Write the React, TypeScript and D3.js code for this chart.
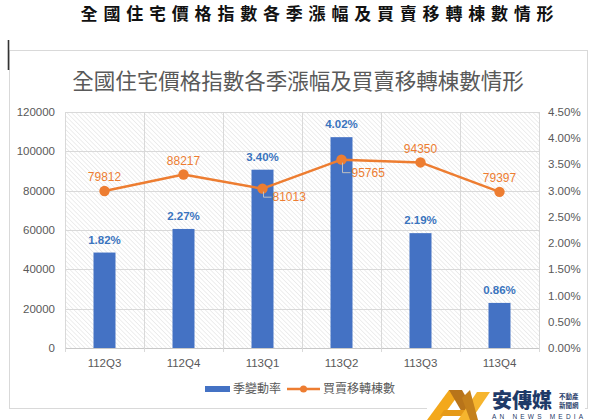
import React from 'react';
import * as d3 from 'd3';

const categories = ['112Q3', '112Q4', '113Q1', '113Q2', '113Q3', '113Q4'];
const changeRates = [1.82, 2.27, 3.40, 4.02, 2.19, 0.86];
const transfers = [79812, 88217, 81013, 95765, 94350, 79397];
const leftTicks = [0, 20000, 40000, 60000, 80000, 100000, 120000];
const rightTicks = [0, 0.5, 1, 1.5, 2, 2.5, 3, 3.5, 4, 4.5];
const pageTitle = '全國住宅價格指數各季漲幅及買賣移轉棟數情形';
const chartTitle = '全國住宅價格指數各季漲幅及買賣移轉棟數情形';
const legendLabels = ['季變動率', '買賣移轉棟數'];

const W = 600, H = 420;
const plot = { left: 65, right: 539, top: 112, bottom: 348 };
const BLUE = '#4472C4';
const BLUE_LABEL = '#3A74BE';
const ORANGE = '#ED7D31';
const GRAY_TEXT = '#595959';
const GRID = '#D9D9D9';
const NUM_FONT = '"Liberation Sans", Arial, sans-serif';
const CJK_FONT = '"Noto Sans CJK TC", "Noto Sans", sans-serif';

export default function App() {
  const x = d3.scaleBand<string>().domain(categories).range([plot.left, plot.right]).paddingInner(0).paddingOuter(0);
  const yL = d3.scaleLinear().domain([0, 120000]).range([plot.bottom, plot.top]);
  const yR = d3.scaleLinear().domain([0, 4.5]).range([plot.bottom, plot.top]);
  const barW = 22;
  const cx = (c: string) => (x(c) as number) + x.bandwidth() / 2;
  const line = d3.line<number>().x((_, i) => cx(categories[i])).y((v) => yL(v));
  const callouts = new Set([2, 3]);
  const boundaries = d3.range(categories.length + 1).map((i) => plot.left + i * x.bandwidth());

  return (
    <svg width={W} height={H} style={{ position: 'absolute', left: 0, top: 0, background: '#fff' }}>
      <defs>
        <pattern id="hatch" width="3.2" height="3.2" patternUnits="userSpaceOnUse" patternTransform="rotate(45)">
          <line x1="0" y1="0" x2="3.2" y2="0" stroke="#DADADA" strokeWidth="0.9" />
        </pattern>
      </defs>
      {/* page title */}
      <text x={320} y={19.5} textAnchor="middle" fontFamily={CJK_FONT} fontWeight={700} fontSize={17}
        letterSpacing={5.8} fill="#111">{pageTitle}</text>
      {/* frame */}
      <rect x={9.5} y={50.5} width={578} height={358} fill="none" stroke="#D9D9D9" strokeWidth={1} />
      <line x1={8.5} y1={40} x2={8.5} y2={70} stroke="#333" strokeWidth={1.6} />
      {/* chart title */}
      <text x={298} y={89} textAnchor="middle" fontFamily={CJK_FONT} fontSize={21.5} fill={GRAY_TEXT}>{chartTitle}</text>
      {/* plot background */}
      <rect x={plot.left} y={plot.top} width={plot.right - plot.left} height={plot.bottom - plot.top} fill="url(#hatch)" />
      {/* grid */}
      {leftTicks.map((t) => (
        <line key={'h' + t} x1={plot.left} x2={plot.right} y1={Math.round(yL(t)) + 0.5} y2={Math.round(yL(t)) + 0.5}
          stroke={t === 0 ? '#C8C8C8' : GRID} strokeWidth={1} />
      ))}
      {boundaries.map((b, i) => (
        <line key={'v' + i} x1={Math.round(b) + 0.5} x2={Math.round(b) + 0.5} y1={plot.top} y2={plot.bottom + 4}
          stroke={GRID} strokeWidth={1} />
      ))}
      {/* left axis */}
      {leftTicks.map((t) => (
        <text key={'l' + t} x={55} y={yL(t)} dy="0.35em" textAnchor="end" fontFamily={NUM_FONT} fontSize={11.5}
          fill={GRAY_TEXT}>{t}</text>
      ))}
      {/* right axis */}
      {rightTicks.map((t) => (
        <text key={'r' + t} x={548} y={yR(t)} dy="0.35em" textAnchor="start" fontFamily={NUM_FONT} fontSize={11.5}
          fill={GRAY_TEXT}>{t.toFixed(2) + '%'}</text>
      ))}
      {/* x labels */}
      {categories.map((c) => (
        <text key={'x' + c} x={cx(c)} y={363} dy="0.35em" textAnchor="middle" fontFamily={NUM_FONT} fontSize={11.5}
          fill={GRAY_TEXT}>{c}</text>
      ))}
      {/* bars */}
      {changeRates.map((v, i) => (
        <rect key={'b' + i} x={cx(categories[i]) - barW / 2} y={yR(v)} width={barW} height={plot.bottom - yR(v)} fill={BLUE} />
      ))}
      {changeRates.map((v, i) => (
        <text key={'bl' + i} x={cx(categories[i])} y={yR(v) - 13} dy="0.35em" textAnchor="middle" fontFamily={NUM_FONT}
          fontWeight={700} fontSize={11.5} fill={BLUE_LABEL}>{v.toFixed(2) + '%'}</text>
      ))}
      {/* line */}
      <path d={line(transfers) || ''} fill="none" stroke={ORANGE} strokeWidth={2.5} strokeLinejoin="round" />
      {transfers.map((v, i) => (
        <circle key={'p' + i} cx={cx(categories[i])} cy={yL(v)} r={5.2} fill={ORANGE} />
      ))}
      {transfers.map((v, i) => {
        const px = cx(categories[i]);
        const py = yL(v);
        if (callouts.has(i)) {
          const ly = py + (i === 2 ? 8.5 : 13);
          return (
            <g key={'pl' + i}>
              <polyline points={`${px + 1},${py + 3} ${px + 1},${ly} ${px + 9},${ly}`} fill="none" stroke="#BFBFBF" strokeWidth={1} />
              <text x={px + 10} y={ly} dy="0.35em" textAnchor="start" fontFamily={NUM_FONT} fontSize={12}
                fill={ORANGE}>{v}</text>
            </g>
          );
        }
        return (
          <text key={'pl' + i} x={px} y={py - 14} dy="0.35em" textAnchor="middle" fontFamily={NUM_FONT} fontSize={12}
            fill={ORANGE}>{v}</text>
        );
      })}
      {/* legend */}
      <rect x={205} y={386} width={25} height={6} fill={BLUE} />
      <text x={233} y={389} dy="0.35em" fontFamily={CJK_FONT} fontSize={12} fill={GRAY_TEXT}>{legendLabels[0]}</text>
      <line x1={287} x2={320} y1={389} y2={389} stroke={ORANGE} strokeWidth={2.5} />
      <circle cx={303.5} cy={389} r={3.5} fill={ORANGE} />
      <text x={323} y={389} dy="0.35em" fontFamily={CJK_FONT} fontSize={12} fill={GRAY_TEXT}>{legendLabels[1]}</text>
      {/* watermark logo */}
      <g>
        <rect x={427} y={386} width={158} height={34} fill="#fff" />
        <polygon points="427,420 440,420 462,390 449,390" fill="#F3A81C" />
        <polygon points="449,390 462,390 470,404 463,414" fill="#B8741A" />
        <polygon points="444,410 468,410 464,416 440,416" fill="#E69A18" />
        <polygon points="458,420 471,420 490,392 477,392" fill="#F6B52E" />
        <polygon points="462,398 470,390 478,420 470,420" fill="#C4801C" />
        <text x={492} y={408} fontFamily={CJK_FONT} fontWeight={900} fontSize={20} fill="#1F3A68">安傳媒</text>
        <text x={559} y={398.5} fontFamily={CJK_FONT} fontWeight={700} fontSize={6.5} fill="#1F3A68">不動產</text>
        <text x={559} y={408} fontFamily={CJK_FONT} fontWeight={700} fontSize={6.5} fill="#1F3A68">新聞網</text>
        <text x={492} y={419} fontFamily={NUM_FONT} fontSize={6.5} letterSpacing={3.2} fill="#1F3A68">AN NEWS MEDIA</text>
      </g>
    </svg>
  );
}
